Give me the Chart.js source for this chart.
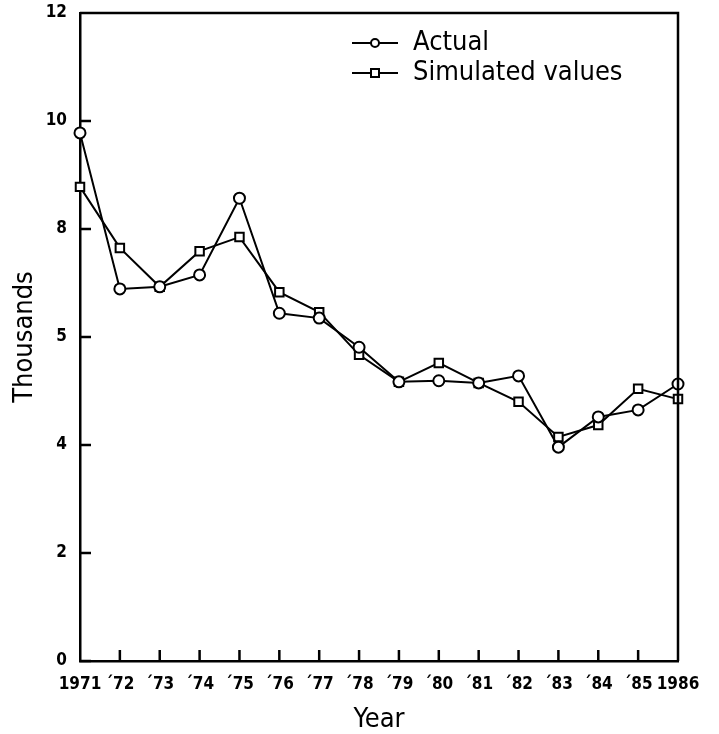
<!DOCTYPE html>
<html>
<head>
<meta charset="utf-8">
<script src="https://cdn.jsdelivr.net/npm/chart.js@4/dist/chart.umd.min.js"></script>
<style>
html,body{margin:0;padding:0;background:#fff;}
#wrap{width:719px;height:734px;position:relative;}
</style>
</head>
<body>
<div id="wrap"><canvas id="c"></canvas></div>
<script>
// data
const years=['1971','\u00B472','\u00B473','\u00B474','\u00B475','\u00B476','\u00B477','\u00B478','\u00B479','\u00B480','\u00B481','\u00B482','\u00B483','\u00B484','\u00B485','1986'];
const actual=[9.78,6.89,6.93,7.15,8.57,6.44,6.35,5.81,5.17,5.19,5.15,5.28,3.96,4.52,4.65,5.13];
const simulated=[8.78,7.65,6.93,7.59,7.85,6.83,6.46,5.67,5.17,5.52,5.15,4.80,4.15,4.37,5.04,4.85];
const yTickValues=[0,2,4,6,8,10,12];
const yTickLabels=['0','2','4','5','8','10','12'];
const seriesNames=['Actual','Simulated values'];

const tickFont={family:'"DejaVu Sans Condensed","DejaVu Sans",sans-serif',size:17,weight:'bold'};
const titleFont={family:'"DejaVu Sans Condensed","DejaVu Sans",sans-serif',size:27,lineHeight:1.1};
const xTitleFont={family:titleFont.family,size:27,lineHeight:0.73};

// inward tick marks + box frame
const frame={
  id:'frame',
  afterDraw(chart){
    const ctx=chart.ctx,a=chart.chartArea,xs=chart.scales.x,ys=chart.scales.y;
    ctx.save();
    ctx.strokeStyle='#000';ctx.lineWidth=2.5;
    ctx.beginPath();
    ctx.moveTo(a.left,a.top);ctx.lineTo(a.right,a.top);ctx.lineTo(a.right,a.bottom);
    yTickValues.forEach(v=>{const y=ys.getPixelForValue(v);ctx.moveTo(a.left,y);ctx.lineTo(a.left+11,y);});
    for(let i=1;i<years.length-1;i++){const x=xs.getPixelForValue(i);ctx.moveTo(x,a.bottom);ctx.lineTo(x,a.bottom-11);}
    ctx.stroke();
    ctx.restore();
  }
};

// legend drawn inside the plot, top right
const boxLegend={
  id:'boxLegend',
  afterDraw(chart){
    const ctx=chart.ctx,a=chart.chartArea;
    ctx.save();
    chart.data.datasets.forEach((ds,i)=>{
      const y=a.top+30+i*30,x0=a.left+272,x1=a.left+318,xm=(x0+x1)/2;
      ctx.strokeStyle='#000';ctx.lineWidth=2;
      ctx.beginPath();ctx.moveTo(x0,y);ctx.lineTo(x1,y);ctx.stroke();
      ctx.fillStyle='#fff';ctx.lineWidth=2;
      if(ds.pointStyle==='rect'){ctx.fillRect(xm-4,y-4,8,8);ctx.strokeRect(xm-4,y-4,8,8);}
      else{ctx.beginPath();ctx.arc(xm,y,4,0,Math.PI*2);ctx.fill();ctx.stroke();}
      ctx.fillStyle='#000';
      ctx.font=titleFont.size+'px '+titleFont.family;
      ctx.textBaseline='middle';ctx.textAlign='left';
      ctx.fillText(seriesNames[i],a.left+333,y);
    });
    ctx.restore();
  }
};

new Chart(document.getElementById('c'),{
  type:'line',
  data:{
    labels:years,
    datasets:[
      {label:seriesNames[0],data:actual,borderColor:'#000',borderWidth:2,backgroundColor:'#fff',
       pointStyle:'circle',pointRadius:5.5,pointBorderWidth:2,pointBackgroundColor:'#fff',pointBorderColor:'#000',tension:0},
      {label:seriesNames[1],data:simulated,borderColor:'#000',borderWidth:2,backgroundColor:'#fff',
       pointStyle:'rect',pointRadius:6,pointBorderWidth:2,pointBackgroundColor:'#fff',pointBorderColor:'#000',tension:0}
    ]
  },
  options:{
    responsive:true,maintainAspectRatio:false,animation:false,
    layout:{padding:{top:13,right:41,left:0,bottom:0}},
    plugins:{legend:{display:false},tooltip:{enabled:false}},
    scales:{
      x:{
        offset:false,
        grid:{display:false,drawTicks:false},
        border:{color:'#000',width:2.5},
        ticks:{color:'#000',font:tickFont,padding:13,maxRotation:0,autoSkip:false},
        title:{display:true,text:'Year',color:'#000',font:xTitleFont,padding:{top:14}},
        afterFit(s){s.height=73;s.paddingLeft=0;s.paddingRight=0;}
      },
      y:{
        min:0,max:12,
        grid:{display:false,drawTicks:false},
        border:{color:'#000',width:2.5},
        ticks:{color:'#000',font:tickFont,padding:13,stepSize:2,
          callback:v=>yTickLabels[yTickValues.indexOf(v)]},
        title:{display:true,text:'Thousands',color:'#000',font:titleFont,padding:{top:10}},
        afterFit(s){s.width=80;s.paddingTop=0;s.paddingBottom=0;}
      }
    }
  },
  plugins:[frame,boxLegend]
});
</script>
</body>
</html>
